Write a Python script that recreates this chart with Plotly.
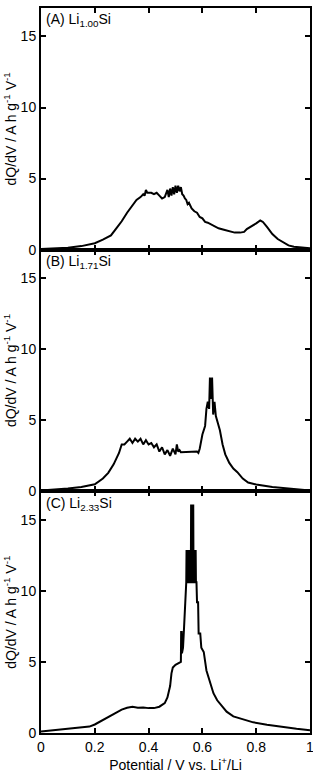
import plotly.graph_objects as go
from plotly.subplots import make_subplots

# ---- data ----
potential_A = [0, 0.05, 0.10, 0.15, 0.20, 0.23, 0.26, 0.28, 0.30, 0.32,
               0.34, 0.355, 0.37, 0.38, 0.385, 0.39, 0.395, 0.40, 0.41, 0.42,
               0.43, 0.44, 0.45, 0.46, 0.465, 0.47, 0.475, 0.48, 0.485, 0.49,
               0.495, 0.50, 0.505, 0.51, 0.515, 0.52, 0.525, 0.53, 0.535, 0.54,
               0.545, 0.55, 0.56, 0.57, 0.58, 0.59, 0.60, 0.61, 0.62, 0.64,
               0.66, 0.68, 0.70, 0.72, 0.74, 0.755, 0.765, 0.78, 0.80, 0.815,
               0.825, 0.84, 0.86, 0.88, 0.90, 0.92, 0.94, 0.96, 0.98, 1.0]
dqdv_A = [0.05, 0.08, 0.13, 0.25, 0.45, 0.7, 1.0, 1.5, 2.0, 2.6,
          3.1, 3.5, 3.7, 3.9, 3.8, 4.2, 4.0, 4.0, 4.0, 3.9,
          4.0, 3.8, 3.6, 3.7, 3.9, 4.2, 3.7, 4.3, 3.8, 4.4,
          3.9, 4.5, 4.0, 4.5, 4.1, 4.4, 3.9, 3.8, 3.6, 3.5,
          3.2, 3.3, 2.9, 2.7, 2.6, 2.3, 2.2, 1.95, 1.9, 1.7,
          1.5, 1.4, 1.28, 1.2, 1.2, 1.25, 1.45, 1.6, 1.85, 2.05,
          1.95, 1.6, 1.1, 0.75, 0.5, 0.3, 0.2, 0.15, 0.12, 0.1]

potential_B = [0, 0.05, 0.10, 0.15, 0.20, 0.23, 0.25, 0.27, 0.29, 0.30,
               0.31, 0.32, 0.33, 0.34, 0.35, 0.36, 0.37, 0.38, 0.39, 0.40,
               0.41, 0.42, 0.43, 0.44, 0.45, 0.46, 0.47, 0.48, 0.49, 0.50,
               0.505, 0.51, 0.515, 0.52, 0.53, 0.54, 0.55, 0.56, 0.57, 0.58,
               0.585, 0.59, 0.60, 0.61, 0.615, 0.62, 0.625, 0.628, 0.632, 0.636,
               0.64, 0.645, 0.65, 0.655, 0.66, 0.665, 0.675, 0.685, 0.70, 0.715,
               0.73, 0.75, 0.77, 0.80, 0.86, 0.92, 0.96, 1.0]
dqdv_B = [0.05, 0.1, 0.2, 0.3, 0.5, 0.9, 1.3, 1.9, 2.7, 3.3,
          3.3, 3.5, 3.7, 3.4, 3.7, 3.5, 3.7, 3.3, 3.6, 3.3,
          3.4, 3.1, 3.3, 2.8, 3.1, 2.6, 2.9, 2.5, 3.0, 2.6,
          3.3, 2.8, 2.9, 2.75, 2.75, 2.75, 2.75, 2.75, 2.75, 2.8,
          2.7, 3.0, 4.0, 4.6, 5.8, 6.3, 5.8, 8.0, 6.5, 8.0,
          5.4, 6.3, 5.3, 5.0, 4.6, 4.3, 3.3, 2.6, 2.0, 1.6,
          1.35, 0.9, 0.62, 0.48, 0.3, 0.18, 0.1, 0.05]

potential_C = [0, 0.05, 0.10, 0.15, 0.18, 0.20, 0.22, 0.24, 0.26, 0.28,
               0.30, 0.32, 0.34, 0.36, 0.38, 0.40, 0.42, 0.44, 0.45,
               0.46, 0.47, 0.48, 0.485, 0.49, 0.50, 0.51, 0.518,
               0.520, 0.521, 0.523, 0.524, 0.528, 0.532, 0.536, 0.538,
               0.540, 0.541, 0.543, 0.544, 0.548, 0.549, 0.551, 0.552,
               0.557, 0.558, 0.560, 0.561, 0.563, 0.564, 0.566, 0.567,
               0.572, 0.573, 0.575, 0.576, 0.578, 0.580, 0.584, 0.586,
               0.592, 0.596, 0.605, 0.615, 0.63, 0.641, 0.655, 0.672, 0.69,
               0.715, 0.75, 0.789, 0.84, 0.90, 0.95, 1.0]
dqdv_C = [0.1, 0.2, 0.3, 0.4, 0.45, 0.6, 0.82, 1.0, 1.2, 1.45,
          1.65, 1.78, 1.85, 1.78, 1.8, 1.75, 1.75, 1.85, 2.0,
          2.1, 2.5, 3.3, 4.2, 4.6, 4.8, 4.9, 5.0,
          5.0, 7.1, 7.1, 5.6, 6.0, 7.5, 9.5, 10.6,
          10.6, 12.8, 12.8, 10.6, 10.6, 12.8, 12.8, 10.6,
          10.6, 16.0, 16.0, 10.6, 10.6, 16.0, 16.0, 10.6,
          10.6, 12.8, 12.8, 10.6, 10.6, 9.2, 9.2, 7.0,
          7.0, 6.0, 5.7, 4.4, 3.4, 2.8, 2.3, 1.9, 1.5,
          1.17, 0.95, 0.75, 0.58, 0.4, 0.3, 0.2]

panel_labels = ["(A) Li<sub>1.00</sub>Si", "(B) Li<sub>1.71</sub>Si", "(C) Li<sub>2.33</sub>Si"]
x_ticks = [0, 0.2, 0.4, 0.6, 0.8, 1.0]
x_ticklabels = ["0", "0.2", "0.4", "0.6", "0.8", "1"]
y_ticks = [0, 5, 10, 15]

series = [(potential_A, dqdv_A), (potential_B, dqdv_B), (potential_C, dqdv_C)]

FONT = "Liberation Sans, Arial, sans-serif"

fig = make_subplots(rows=3, cols=1, shared_xaxes=False, vertical_spacing=0)

for i, (xs, ys) in enumerate(series, start=1):
    fig.add_trace(go.Scatter(x=xs, y=ys, mode="lines",
                             line=dict(color="black", width=2),
                             showlegend=False), row=i, col=1)
    fig.update_yaxes(range=[0, 17], tickvals=y_ticks, ticks="inside",
                     ticklen=5, tickwidth=1.5, tickcolor="black",
                     showline=True, linewidth=2, linecolor="black", mirror="ticks",
                     showgrid=False, zeroline=False,
                     tickfont=dict(family=FONT, size=14, color="black"),
                     title=dict(text="dQ/dV / A h g<sup>-1</sup> V<sup>-1</sup>",
                                font=dict(family=FONT, size=14, color="black"),
                                standoff=1),
                     row=i, col=1)
    fig.update_xaxes(range=[0, 1], tickvals=x_ticks, ticktext=x_ticklabels,
                     ticks="inside", ticklen=5, tickwidth=1.5, tickcolor="black",
                     showline=True, linewidth=2, linecolor="black", mirror="ticks",
                     showgrid=False, zeroline=False, showticklabels=(i == 3),
                     ticklabeloverflow="allow",
                     tickfont=dict(family=FONT, size=14, color="black"),
                     row=i, col=1)
    fig.add_annotation(text=panel_labels[i - 1], xref=f"x{'' if i == 1 else i} domain",
                       yref=f"y{'' if i == 1 else i} domain", x=0.01, y=0.995,
                       xanchor="left", yanchor="top", showarrow=False,
                       font=dict(family=FONT, size=14, color="black"))

fig.update_xaxes(title=dict(text="Potential / V vs. Li<sup>+</sup>/Li",
                            font=dict(family=FONT, size=14, color="black"),
                            standoff=6), row=3, col=1)

fig.update_layout(width=313, height=780,
                  margin=dict(l=41, r=3, t=8, b=47, autoexpand=False),
                  paper_bgcolor="white", plot_bgcolor="white",
                  font=dict(family=FONT, size=14, color="black"))

fig.write_html("out.html")
